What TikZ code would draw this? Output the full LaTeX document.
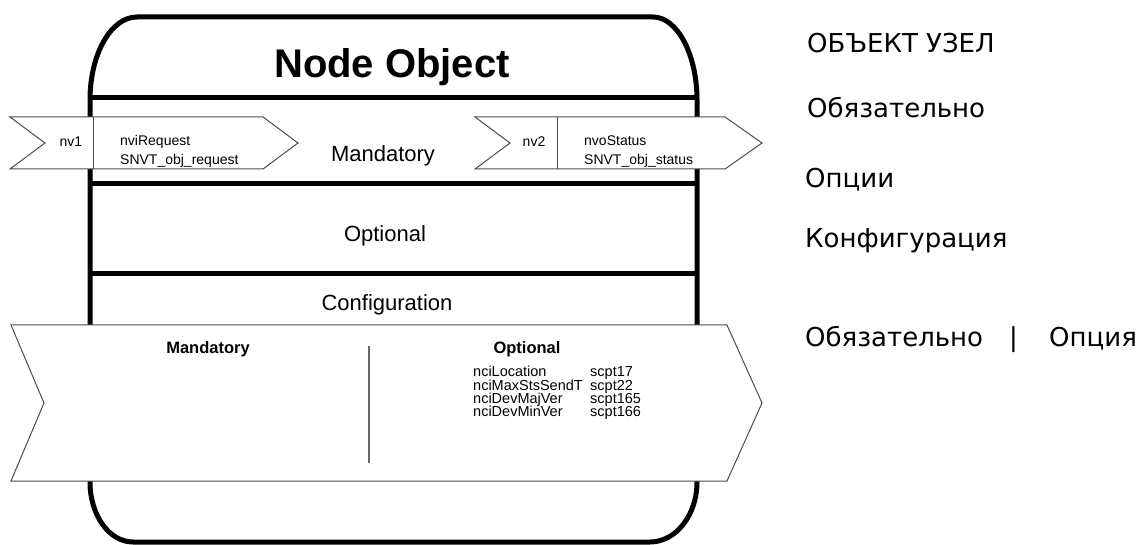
\documentclass[tikz,border=0pt]{standalone}
\usepackage{fontspec}
\setmainfont{Liberation Sans}
\newfontfamily\rufont{DejaVu Sans}
\usetikzlibrary{positioning}

\begin{document}
\begin{tikzpicture}[x=1pt,y=-1pt]
		\tikzstyle{body line}=[line width=5pt]
		\tikzstyle{tag}=[draw=black!70,line width=1pt,fill=white]
		\tikzstyle{lbl}=[inner sep=0pt,anchor=base]
		\tikzstyle{rus}=[inner sep=0pt,anchor=base west,font=\rufont\fontsize{26}{30}\selectfont]
		\def\smalltxt{\fontsize{14}{16}\selectfont}
		\def\listtxt{\fontsize{14.5}{13}\selectfont}
		\def\midtxt{\fontsize{22}{26}\selectfont}

		\useasboundingbox (0,0) rectangle (1141,545);

		%body
		\draw[body line] (90,100) .. controls (90,54) and (111,17) .. (137,17) -- (653,17)
			.. controls (677,17) and (697,54) .. (697,100) -- (697,482)
			.. controls (697,515) and (676,542) .. (650,542) -- (133,542)
			.. controls (109,542) and (90,515) .. (90,482) -- cycle;
		%compartments
		\foreach \y in {98,184,274}
			\draw[body line] (90,\y) -- (697,\y);

		%titles
		\node[lbl,font=\bfseries\fontsize{40}{48}\selectfont] (title) at (392,78) {Node Object};
		\node[lbl,font=\midtxt] (mand) at (383,162) {Mandatory};
		\node[lbl,font=\midtxt] (opt) at (385,242) {Optional};
		\node[lbl,font=\midtxt] (conf) at (387,311) {Configuration};

		%input nv1
		\draw[tag] (10,117) -- (263,117) -- (298,143) -- (263,169) -- (10,169) -- (45,143) -- cycle;
		\draw[tag] (93,117) -- (93,169);
		\node[lbl,font=\smalltxt] (nv1) at (71,147) {nv1};
		\node[lbl,anchor=base west,font=\smalltxt] (nvi) at (120,146) {nviRequest};
		\node[lbl,anchor=base west,font=\smalltxt] (nvitype) at (120,165) {SNVT\_obj\_request};

		%output nv2
		\draw[tag] (475,117) -- (725,117) -- (762,143) -- (725,169) -- (475,169) -- (510,143) -- cycle;
		\draw[tag] (557,117) -- (557,169);
		\node[lbl,font=\smalltxt] (nv2) at (534,147) {nv2};
		\node[lbl,anchor=base west,font=\smalltxt] (nvo) at (584,146) {nvoStatus};
		\node[lbl,anchor=base west,font=\smalltxt] (nvotype) at (584,165) {SNVT\_obj\_status};

		%config properties
		\draw[tag] (11,325) -- (727,325) -- (762,403) -- (727,481) -- (11,481) -- (44,403) -- cycle;
		\draw[draw=black!60,line width=1.5pt] (369,346) -- (369,463);
		\node[lbl,font=\bfseries\fontsize{16.5}{20}\selectfont] (cmand) at (208,354) {Mandatory};
		\node[lbl,font=\bfseries\fontsize{16.5}{20}\selectfont] (copt) at (527,354) {Optional};
		\foreach \nm/\sc [count=\i] in {nciLocation/scpt17,nciMaxStsSendT/scpt22,nciDevMajVer/scpt165,nciDevMinVer/scpt166}
		{
			\node[lbl,anchor=base west,font=\listtxt] (nci\i) at (473,364+13*\i) {\nm};
			\node[lbl,anchor=base west,font=\listtxt] (scpt\i) at (590,364+13*\i) {\sc};
		}

		%russian
		\node[rus] (ru1) at (807,53) {ОБЪЕКТ УЗЕЛ};
		\node[rus] (ru2) at (807,118) {Обязательно};
		\node[rus] (ru3) at (805,188) {Опции};
		\node[rus] (ru4) at (805,248) {Конфигурация};
		\node[rus] (ru5) at (805,347) {Обязательно};
		\node[rus] (ru6) at (1009,347) {|};
		\node[rus] (ru7) at (1049,347) {Опция};
	\end{tikzpicture}
\end{document}
